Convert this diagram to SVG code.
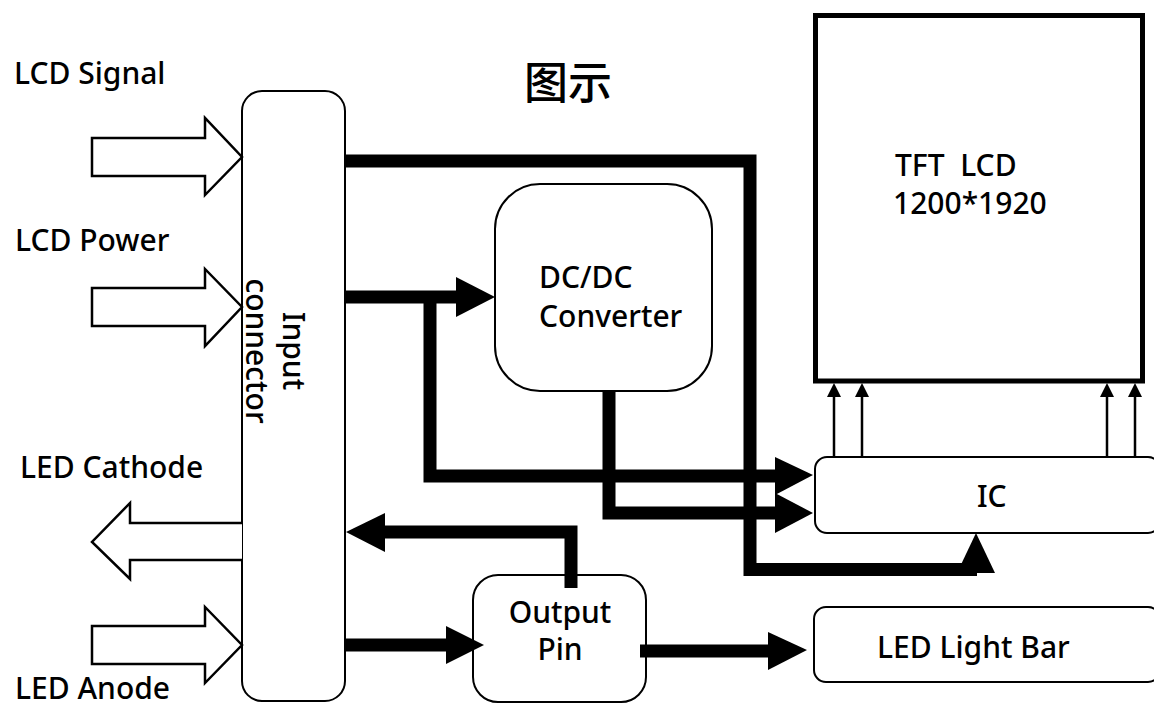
<svg xmlns="http://www.w3.org/2000/svg" width="1154" height="706" viewBox="0 0 1154 706">
<style>
.t{font-family:"Noto Sans","Open Sans","Liberation Sans",sans-serif;font-size:30px;font-weight:500;fill:#000;white-space:pre}
.box{fill:#fff;stroke:#000;stroke-width:2}
.hollow{fill:#fff;stroke:#000;stroke-width:2.5;stroke-linejoin:miter}
.thick{fill:none;stroke:#000;stroke-width:13;stroke-linejoin:miter;stroke-linecap:butt}
.thin{fill:none;stroke:#000;stroke-width:2.5}
.head{fill:#000;stroke:none}
</style>
<rect width="1154" height="706" fill="#fff"/>
<text x="524" y="99" style="font-family:'Noto Sans CJK SC','Noto Sans',sans-serif;font-size:44px;font-weight:500">图示</text>
<g id="label-lcd-signal"><text class="t" x="14" y="84">LCD Signal</text></g>
<g id="label-lcd-power"><text class="t" x="15" y="251">LCD Power</text></g>
<g id="label-led-cathode"><text class="t" x="20" y="478">LED Cathode</text></g>
<g id="label-led-anode"><text class="t" x="15" y="699">LED Anode</text></g>
<g id="tft-lcd">
<rect x="815.5" y="15.5" width="327" height="365.5" fill="#fff" stroke="#000" stroke-width="5"/>
<text class="t" x="895" y="176" xml:space="preserve">TFT  LCD</text>
<text class="t" x="893" y="214">1200*1920</text>
</g>
<g id="input-connector">
<rect class="box" x="242" y="91" width="103" height="610" rx="20" ry="20"/>
<g transform="translate(283,351) rotate(90)">
<text class="t" x="0" y="0" text-anchor="middle">Input</text>
<text class="t" x="0" y="37" text-anchor="middle">connector</text>
</g>
</g>
<g id="dcdc">
<rect class="box" x="495" y="184" width="217" height="207" rx="45" ry="45"/>
<text class="t" x="539" y="288">DC/DC</text>
<text class="t" x="539" y="327">Converter</text>
</g>
<g id="ic">
<rect class="box" x="815" y="457" width="345" height="76" rx="12" ry="12"/>
<text class="t" x="977" y="507">IC</text>
</g>
<g id="output-pin">
<rect class="box" x="473" y="575" width="173" height="127" rx="25" ry="25"/>
<text class="t" x="560" y="623" text-anchor="middle">Output</text>
<text class="t" x="560" y="660" text-anchor="middle">Pin</text>
</g>
<g id="led-light-bar">
<rect class="box" x="814" y="607" width="346" height="75" rx="12" ry="12"/>
<text class="t" x="877" y="658">LED Light Bar</text>
</g>
<g id="connectors">
<polygon class="hollow" points="92,138 205,138 205,118 242,157 205,195 205,176 92,176"/>
<polygon class="hollow" points="92,288 205,288 205,269 242,307 205,346 205,326 92,326"/>
<polyline class="hollow" points="242,523 130,523 130,503 92,542 130,579 130,560 242,560"/>
<polygon class="hollow" points="92,626 205,626 205,607 242,645 205,683 205,664 92,664"/>
<path class="thick" d="M345,161 H750 V569.5 H977"/>
<polygon class="head" points="957,573 995,573 976,533"/>
<path class="thick" d="M345,297 H457"/>
<polygon class="head" points="456,277 456,317 495,297"/>
<path class="thick" d="M430,297 V476 H776"/>
<polygon class="head" points="775,457 775,495 813,475"/>
<path class="thick" d="M609,391 V513 H776"/>
<polygon class="head" points="775,493 775,533 813,513"/>
<path class="thick" d="M571,588 V532 H384"/>
<polygon class="head" points="385,513 385,552 346,532"/>
<path class="thick" d="M345,645 H447"/>
<polygon class="head" points="446,626 446,664 484,645"/>
<path class="thick" d="M640,651 H770"/>
<polygon class="head" points="768,632 768,670 807,650"/>
<path class="thin" d="M834,457 V396 M862,457 V396 M1107,457 V396 M1135,457 V396"/>
<polygon class="head" points="827,397 841,397 834,383"/>
<polygon class="head" points="855,397 869,397 862,383"/>
<polygon class="head" points="1100,397 1114,397 1107,383"/>
<polygon class="head" points="1128,397 1142,397 1135,383"/>
</g>
</svg>
